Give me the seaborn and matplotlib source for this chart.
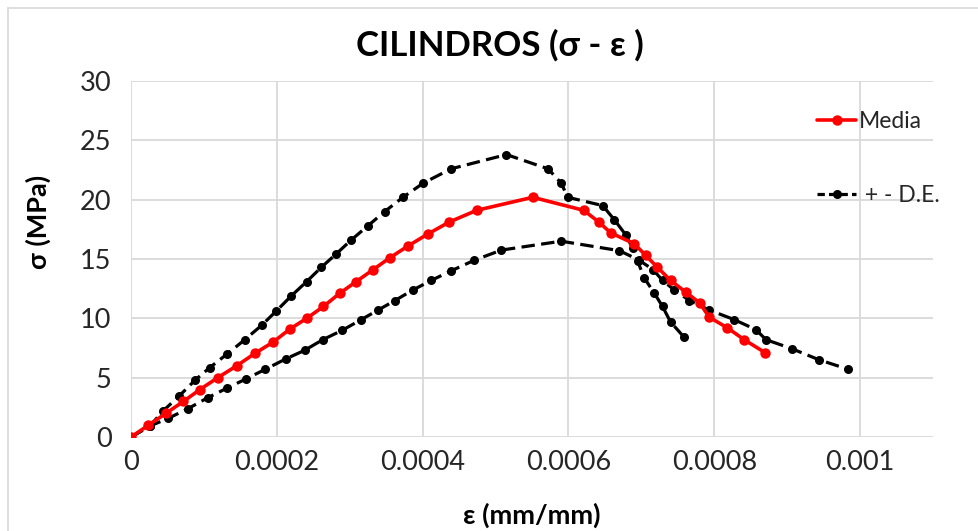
### Bibliotecas
import matplotlib
matplotlib.use("Agg")
import matplotlib.pyplot as plt
from matplotlib.lines import Line2D
import numpy as np
import pandas as pd
import seaborn as sns

### Dados (deformação em mm/mm, tensão em MPa)
eps_media = [0, 0.000024, 0.000048, 0.000072, 0.0000945, 0.000119, 0.000145, 0.00017,
			0.000195, 0.000218, 0.000241, 0.000264, 0.000286, 0.000309, 0.000332, 0.000355,
			0.00038, 0.000407, 0.000436, 0.000474, 0.000551, 0.000621, 0.000642, 0.000658,
			0.00069, 0.000706, 0.000722, 0.00074, 0.000761, 0.00078, 0.000793, 0.000818,
			0.000841, 0.00087]
sig_media = [0, 1.0, 2.0, 3.0, 4.0, 5.0, 6.0, 7.05,
			8.0, 9.1, 10.0, 11.0, 12.1, 13.1, 14.1, 15.1,
			16.1, 17.1, 18.1, 19.1, 20.2, 19.1, 18.1, 17.2,
			16.3, 15.3, 14.3, 13.2, 12.2, 11.3, 10.1, 9.2,
			8.2, 7.1]

eps_sup = [0, 0.000026, 0.000044, 0.000066, 0.000088, 0.000108, 0.000132, 0.000156,
			0.000179, 0.000199, 0.00022, 0.000241, 0.000261, 0.000281, 0.000302, 0.000325,
			0.000348, 0.000373, 0.000401, 0.000439, 0.000515, 0.000572, 0.00059, 0.000599,
			0.000647, 0.000663, 0.000679, 0.000688, 0.000695, 0.000704, 0.000718, 0.000729,
			0.00074, 0.000758]
sig_sup = [0, 0.93, 2.2, 3.45, 4.8, 5.85, 7.0, 8.2,
			9.4, 10.6, 11.9, 13.1, 14.3, 15.4, 16.6, 17.8,
			19.0, 20.2, 21.4, 22.6, 23.8, 22.6, 21.4, 20.2,
			19.5, 18.3, 17.0, 15.9, 14.8, 13.4, 12.1, 11.0,
			9.7, 8.45]

eps_inf = [0, 0.000026, 0.000051, 0.0000785, 0.000105, 0.000131, 0.000158, 0.000184,
			0.000213, 0.000238, 0.000263, 0.00029, 0.000316, 0.000339, 0.000362, 0.000387,
			0.000412, 0.000439, 0.000471, 0.000508, 0.00059, 0.00067, 0.000697, 0.000716,
			0.000729, 0.000745, 0.000766, 0.000793, 0.000827, 0.000857, 0.000871, 0.000906,
			0.000944, 0.000984]
sig_inf = [0, 0.93, 1.57, 2.4, 3.3, 4.1, 4.9, 5.7,
			6.6, 7.3, 8.2, 9.0, 9.9, 10.7, 11.5, 12.4,
			13.2, 14.0, 14.9, 15.75, 16.5, 15.7, 14.9, 14.1,
			13.2, 12.4, 11.5, 10.7, 9.9, 9.05, 8.2, 7.45,
			6.5, 5.7]

x_ticks = [0, 0.0002, 0.0004, 0.0006, 0.0008, 0.001]
x_rotulos = ["0", "0.0002", "0.0004", "0.0006", "0.0008", "0.001"]
y_ticks = [0, 5, 10, 15, 20, 25, 30]

media = pd.DataFrame({"eps": eps_media, "sig": sig_media})
sup = pd.DataFrame({"eps": eps_sup, "sig": sig_sup})
inf = pd.DataFrame({"eps": eps_inf, "sig": sig_inf})

### Estilo
sns.set_theme(style = "white")
plt.rcParams["font.family"] = ["Lato", "DejaVu Sans"]
cinza = "#d9d9d9"
tracejado = (0, (4.2, 2.0))

fig = plt.figure(figsize = (9.79, 5.31), dpi = 100, facecolor = "white")
ax = fig.add_axes([131/979, 1 - 437/531, (933 - 131)/979, (437 - 81)/531])

sns.lineplot(data = sup, x = "eps", y = "sig", ax = ax, sort = False, estimator = None,
				color = "black", linewidth = 2.3, marker = "o", markersize = 6.5,
				markeredgewidth = 0, dashes = False, linestyle = tracejado, zorder = 2)
sns.lineplot(data = inf, x = "eps", y = "sig", ax = ax, sort = False, estimator = None,
				color = "black", linewidth = 2.3, marker = "o", markersize = 6.5,
				markeredgewidth = 0, dashes = False, linestyle = tracejado, zorder = 2)
sns.lineplot(data = media, x = "eps", y = "sig", ax = ax, sort = False, estimator = None,
				color = "#ff0000", linewidth = 2.6, marker = "o", markersize = 7.5,
				markeredgewidth = 0, zorder = 3)

ax.set_xlim(0, 0.0011)
ax.set_ylim(0, 30)
ax.set_xticks(x_ticks)
ax.set_xticklabels(x_rotulos)
ax.set_yticks(y_ticks)
ax.tick_params(axis = "both", length = 0, labelsize = 19.5, colors = "#262626", pad = 9)
ax.tick_params(axis = "y", pad = 14)
ax.grid(True, color = cinza, linewidth = 1.3)
for lado in ax.spines.values():
	lado.set_visible(False)
ax.set_xlabel("")
ax.set_ylabel("")

### Textos
fig.text(500/979, 1 - 45/531, "CILINDROS (σ - ε )", ha = "center", va = "center",
			fontsize = 25, fontweight = "bold", color = "black")
fig.text(532/979, 1 - 515/531, "ε (mm/mm)", ha = "center", va = "center",
			fontsize = 19.5, fontweight = "bold", color = "black")
fig.text(38/979, 1 - 222/531, "σ (MPa)", ha = "center", va = "center", rotation = 90,
			fontsize = 19.5, fontweight = "bold", color = "black")

### Legenda
alca_media = Line2D([], [], color = "#ff0000", linewidth = 2.6, marker = "o", markersize = 7.5,
						markeredgewidth = 0)
alca_de = Line2D([], [], color = "black", linewidth = 2.3, marker = "o", markersize = 6.5,
						markeredgewidth = 0, linestyle = (0, (2.3, 1.3)))
fig.legend([alca_media, alca_de], ["Media", " + - D.E."], loc = "upper left",
			bbox_to_anchor = (806/979, 1 - 100/531), frameon = False, fontsize = 16.5,
			handlelength = 1.7, handletextpad = 0.12, labelspacing = 2.3, borderpad = 0)

### Moldura do gráfico
fig.add_artist(Line2D([8/979, 1], [1 - 8/531, 1 - 8/531], color = cinza, linewidth = 1.2))
fig.add_artist(Line2D([8/979, 8/979], [0, 1 - 8/531], color = cinza, linewidth = 1.2))

plt.savefig("out.png", dpi = 100, facecolor = "white")
